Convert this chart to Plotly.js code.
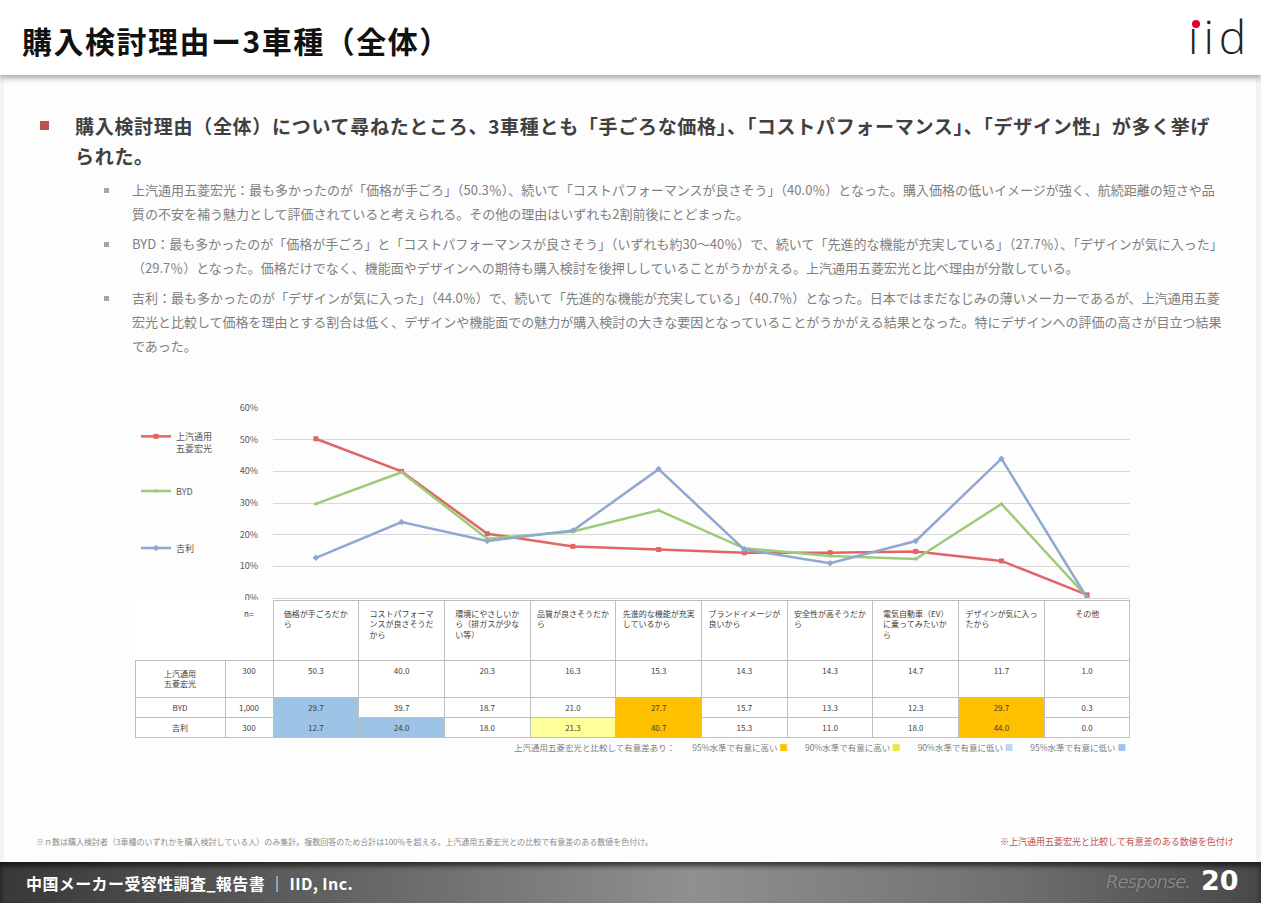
<!DOCTYPE html>
<html lang="ja">
<head>
<meta charset="utf-8">
<script src="https://cdn.plot.ly/plotly-3.0.1.min.js"></script>
<style>
html,body{margin:0;padding:0;}
body{width:1261px;height:903px;position:relative;overflow:hidden;background:#f3f3f3;font-family:"Noto Sans CJK JP","Noto Sans",sans-serif;}
#header{position:absolute;left:0;top:0;width:1261px;height:75px;background:#fff;z-index:2;box-shadow:0 3px 6px rgba(0,0,0,0.35);}
#title{position:absolute;left:22px;top:18px;font-size:30px;font-weight:bold;color:#111;line-height:44px;letter-spacing:1.5px;}
#logo{position:absolute;left:1188px;top:6px;font-family:"Open Sans","DejaVu Sans",sans-serif;font-weight:300;font-size:46px;color:#222;line-height:60px;letter-spacing:5px;}
#logo .i1{position:relative;}
#logo .dot{position:absolute;left:4px;top:15px;width:8px;height:8px;border-radius:50%;background:#e0002a;}
#content{position:absolute;left:4px;top:75px;width:1252px;height:787px;background:#fdfdfd;}
#b1{position:absolute;left:75px;top:111px;width:1152px;font-size:19px;font-weight:bold;color:#404040;line-height:30px;letter-spacing:0.7px;}
#b1mark{position:absolute;left:40px;top:121px;width:9px;height:9px;background:#c0504d;}
.sub{position:absolute;left:132px;width:1095px;font-size:13px;color:#7f7f7f;line-height:24px;}
.submark{position:absolute;left:104px;width:5px;height:5px;background:#a6a6a6;}
#noteL{position:absolute;left:36px;top:836px;font-size:8px;color:#8c8c8c;}
#noteR{position:absolute;left:1000px;top:835px;font-size:9px;color:#c0504d;}
#footer{position:absolute;left:0;top:862px;width:1261px;height:41px;background:linear-gradient(to right,#383838 0%,#707070 35%,#909090 55%,#707070 80%,#484848 100%);box-shadow:inset 0 4px 5px rgba(0,0,0,0.6);}
#ftext{position:absolute;left:26px;top:9px;font-size:16px;font-weight:bold;color:#fff;letter-spacing:0.4px;}
#resp{position:absolute;left:1106px;top:9px;font-family:"DejaVu Sans",sans-serif;font-style:italic;font-size:18px;color:rgba(255,255,255,0.45);letter-spacing:-1px;text-shadow:0 0 1px #222;}
#pnum{position:absolute;left:1201px;top:3px;font-family:"DejaVu Sans",sans-serif;font-size:27px;font-weight:bold;color:#fff;}
#chart{position:absolute;left:0;top:0;width:1261px;height:903px;z-index:3;}
</style>
</head>
<body>
<div id="header">
  <div id="title">購入検討理由ー3車種（全体）</div>
  <div id="logo"><span class="i1">ı<span class="dot"></span></span>id</div>
</div>
<div id="content"></div>
<div id="b1mark"></div>
<div id="b1">購入検討理由（全体）について尋ねたところ、3車種とも「手ごろな価格」、「コストパフォーマンス」、「デザイン性」が多く挙げられた。</div>
<div class="submark" style="top:188px"></div>
<div class="sub" style="top:178px">上汽通用五菱宏光：最も多かったのが「価格が手ごろ」（50.3％）、続いて「コストパフォーマンスが良さそう」（40.0％）となった。購入価格の低いイメージが強く、航続距離の短さや品質の不安を補う魅力として評価されていると考えられる。その他の理由はいずれも2割前後にとどまった。</div>
<div class="submark" style="top:242px"></div>
<div class="sub" style="top:232px">BYD：最も多かったのが「価格が手ごろ」と「コストパフォーマンスが良さそう」（いずれも約30～40％）で、続いて「先進的な機能が充実している」（27.7％）、「デザインが気に入った」（29.7％）となった。価格だけでなく、機能面やデザインへの期待も購入検討を後押ししていることがうかがえる。上汽通用五菱宏光と比べ理由が分散している。</div>
<div class="submark" style="top:296px"></div>
<div class="sub" style="top:286px">吉利：最も多かったのが「デザインが気に入った」（44.0％）で、続いて「先進的な機能が充実している」（40.7％）となった。日本ではまだなじみの薄いメーカーであるが、上汽通用五菱宏光と比較して価格を理由とする割合は低く、デザインや機能面での魅力が購入検討の大きな要因となっていることがうかがえる結果となった。特にデザインへの評価の高さが目立つ結果であった。</div>
<div id="noteL">※ｎ数は購入検討者（3車種のいずれかを購入検討している人）のみ集計。複数回答のため合計は100％を超える。上汽通用五菱宏光との比較で有意差のある数値を色付け。</div>
<div id="noteR">※上汽通用五菱宏光と比較して有意差のある数値を色付け</div>
<div id="footer">
  <div id="ftext">中国メーカー受容性調査_報告書 ｜ IID, Inc.</div>
  <div id="resp">Response.</div>
  <div id="pnum">20</div>
</div>
<div id="chart"></div>
<script>
// ---- data ----
const categories = [
  "価格が手ごろだか<br>ら",
  "コストパフォーマ<br>ンスが良さそうだ<br>から",
  "環境にやさしいか<br>ら（排ガスが少な<br>い等）",
  "品質が良さそうだか<br>ら",
  "先進的な機能が充実<br>しているから",
  "ブランドイメージが<br>良いから",
  "安全性が高そうだか<br>ら",
  "電気自動車（EV）<br>に乗ってみたいか<br>ら",
  "デザインが気に入っ<br>たから",
  "その他"
];
const seriesNames = ["上汽通用五菱宏光", "BYD", "吉利"];
const seriesLabels = ["上汽通用<br>五菱宏光", "BYD", "吉利"];
const sampleSizes = ["300", "1,000", "300"];
const valuesWuling = [50.3, 40.0, 20.3, 16.3, 15.3, 14.3, 14.3, 14.7, 11.7, 1.0];
const valuesBYD    = [29.7, 39.7, 18.7, 21.0, 27.7, 15.7, 13.3, 12.3, 29.7, 0.3];
const valuesGeely  = [12.7, 24.0, 18.0, 21.3, 40.7, 15.3, 11.0, 18.0, 44.0, 0.0];
// significance vs 上汽通用五菱宏光
const sigWuling = ["", "", "", "", "", "", "", "", "", ""];
const sigBYD    = ["L95", "", "", "", "H95", "", "", "", "H95", ""];
const sigGeely  = ["L95", "L95", "", "H90", "H95", "", "", "", "H95", ""];
const sigLegend = ["上汽通用五菱宏光と比較して有意差あり：", "95%水準で有意に高い", "90%水準で有意に高い", "90%水準で有意に低い", "95%水準で有意に低い"];

// ---- styles ----
const W = 1261, H = 903;
const lineColors = ["#e06666", "#9ccc7a", "#8fa8d0"];
const markerSymbols = ["square", "triangle-up", "diamond"];
const sigColors = {"H95": "#ffc000", "H90": "#ffff99", "L90": "#ddebf7", "L95": "#9dc3e6", "": "#ffffff"};
const allValues = [valuesWuling, valuesBYD, valuesGeely];
const allSig = [sigWuling, sigBYD, sigGeely];
const legendIds = ["legend", "legend2", "legend3"];

const traces = allValues.map((vals, i) => ({
  type: "scatter", mode: "lines+markers",
  x: categories, y: vals,
  name: seriesLabels[i], legend: legendIds[i],
  line: {color: lineColors[i], width: 2.5},
  marker: {color: lineColors[i], size: 5, symbol: markerSymbols[i]},
  hoverinfo: "skip"
}));

// header padding to vertically centre
function padHeader(t) {
  const n = t.split("<br>").length;
  return (n >= 3 ? "" : (n === 2 ? "<br>" : "<br><br>")) + t;
}
const headerVals = ["", "<br><br><br>n="].concat(categories.map(padHeader));
const headerLine = ["rgba(0,0,0,0)", "rgba(0,0,0,0)"].concat(categories.map(() => "#bfbfbf"));
const cellVals = [seriesLabels, sampleSizes].concat(
  categories.map((c, j) => allValues.map(v => v[j].toFixed(1)))
);
const cellFill = [seriesLabels.map(() => "#ffffff"), sampleSizes.map(() => "#ffffff")].concat(
  categories.map((c, j) => allSig.map(s => sigColors[s[j]]))
);
const colW = [90, 48].concat(categories.map(() => 85.7));

traces.push({
  type: "table",
  domain: {x: [135 / W, 1130 / W], y: [(H - 742) / H, (H - 600) / H]},
  columnwidth: colW,
  header: {
    values: headerVals, align: "center", height: 60,
    font: {size: 8, color: "#404040", family: "Noto Sans CJK JP"},
    fill: {color: "#ffffff"},
    line: {color: headerLine, width: 1}
  },
  cells: {
    values: cellVals, align: "center", height: 20,
    font: {size: 8, color: "#404040", family: "Noto Sans CJK JP"},
    fill: {color: cellFill},
    line: {color: "#bfbfbf", width: 1}
  },
  showlegend: false
});

const sq = (c) => '<span style="color:' + c + '">■</span>';
const legendText = sigLegend[0] + "　　" +
  sigLegend[1] + " " + sq(sigColors.H95) + "　　" +
  sigLegend[2] + " " + sq("#e6e64d") + "　　" +
  sigLegend[3] + " " + sq("#bdd7ee") + "　　" +
  sigLegend[4] + " " + sq(sigColors.L95);

const legendBase = {
  x: 136 / W, xanchor: "left",
  font: {size: 9, color: "#595959"},
  bgcolor: "rgba(0,0,0,0)", itemwidth: 30
};

const layout = {
  width: W, height: H,
  margin: {l: 0, r: 0, t: 0, b: 0},
  paper_bgcolor: "rgba(0,0,0,0)", plot_bgcolor: "rgba(0,0,0,0)",
  font: {family: "Noto Sans CJK JP, Noto Sans, sans-serif", color: "#595959"},
  showlegend: true,
  legend: Object.assign({}, legendBase, {y: (H - 424) / H, yanchor: "top", valign: "top"}),
  legend2: Object.assign({}, legendBase, {y: (H - 491) / H, yanchor: "middle"}),
  legend3: Object.assign({}, legendBase, {y: (H - 548) / H, yanchor: "middle"}),
  xaxis: {
    domain: [273 / W, 1130 / W], type: "category", range: [-0.5, 9.5],
    showticklabels: false, showgrid: false, zeroline: false, showline: false, fixedrange: true
  },
  yaxis: {
    domain: [(H - 598) / H, (H - 408) / H], range: [0, 60], dtick: 10, ticksuffix: "%",
    tickfont: {size: 9, color: "#595959"}, gridcolor: "#d9d9d9", gridwidth: 1,
    zeroline: true, zerolinecolor: "#d9d9d9", showline: false, ticks: "", ticklabelstandoff: 14, fixedrange: true
  },
  annotations: [{
    xref: "paper", yref: "paper", x: 1128 / W, y: (H - 747) / H, xanchor: "right", yanchor: "middle",
    text: legendText, showarrow: false, font: {size: 8.5, color: "#7f7f7f"}
  }]
};

Plotly.newPlot("chart", traces, layout, {staticPlot: true, displayModeBar: false});
</script>
</body>
</html>
